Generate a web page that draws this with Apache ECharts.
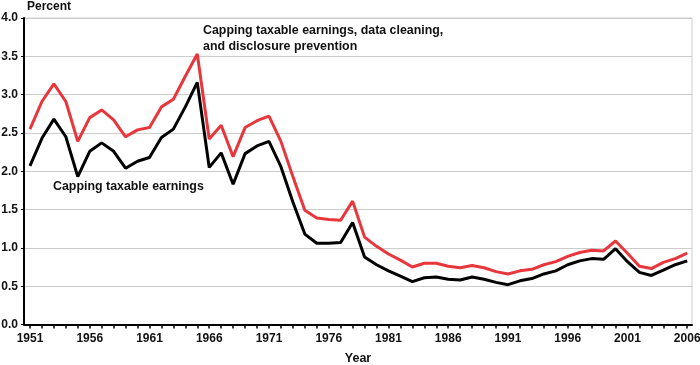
<!DOCTYPE html>
<html>
<head>
<meta charset="utf-8">
<script src="https://cdn.jsdelivr.net/npm/echarts@6/dist/echarts.min.js"></script>
<style>html,body{margin:0;padding:0;background:#fff}#c{width:700px;height:365px}</style>
</head>
<body>
<div id="c"></div>
<script>
const years = [];
for (let y = 1951; y <= 2006; y++) years.push(y);
const labelYears = [1951, 1956, 1961, 1966, 1971, 1976, 1981, 1986, 1991, 1996, 2001, 2006];
const fullSeries = [2.55, 2.91, 3.14, 2.91, 2.39, 2.70, 2.80, 2.67, 2.45, 2.54, 2.57, 2.84, 2.94, 3.24, 3.53, 2.42, 2.60, 2.19, 2.57, 2.66,
  2.72, 2.39, 1.93, 1.49, 1.39, 1.37, 1.36, 1.61, 1.14, 1.02, 0.92, 0.84, 0.75, 0.80, 0.80, 0.76, 0.74, 0.77, 0.74, 0.69,
  0.66, 0.70, 0.72, 0.78, 0.82, 0.89, 0.94, 0.97, 0.96, 1.09, 0.93, 0.76, 0.73, 0.81, 0.86, 0.93];
const cappingSeries = [2.07, 2.43, 2.68, 2.45, 1.93, 2.26, 2.37, 2.26, 2.04, 2.13, 2.18, 2.44, 2.55, 2.84, 3.16, 2.05, 2.24, 1.83, 2.23, 2.33,
  2.39, 2.06, 1.60, 1.18, 1.06, 1.06, 1.07, 1.33, 0.88, 0.78, 0.70, 0.63, 0.56, 0.61, 0.62, 0.59, 0.58, 0.62, 0.59, 0.55,
  0.52, 0.57, 0.60, 0.66, 0.70, 0.78, 0.83, 0.86, 0.85, 0.99, 0.82, 0.68, 0.64, 0.71, 0.78, 0.83];
const yTicks = [0, 0.5, 1, 1.5, 2, 2.5, 3, 3.5, 4];

const font = 'Liberation Sans, Arial, Helvetica, sans-serif';
const chart = echarts.init(document.getElementById('c'), null, {renderer: 'canvas'});
chart.setOption({
  animation: false,
  grid: {left: 24, right: 8, top: 18, bottom: 40.5, outerBoundsMode: 'none', containLabel: false,
    show: true, borderColor: '#cccccc', borderWidth: 1, backgroundColor: 'transparent'},
  xAxis: {
    type: 'value', min: 1950.5, max: 2006.4,
    name: 'Year', nameLocation: 'middle', nameGap: 28,
    nameTextStyle: {fontFamily: font, fontWeight: 'bold', fontSize: 12.5, color: '#111'},
    axisLine: {show: true, onZero: false, lineStyle: {color: '#000', width: 2}},
    axisTick: {show: true, length: 4, lineStyle: {color: '#000', width: 1.5}, customValues: years},
    axisLabel: {customValues: labelYears, margin: 8, fontFamily: font, fontWeight: 'bold', fontSize: 12, color: '#111', formatter: v => String(Math.round(v))},
    splitLine: {show: false}
  },
  yAxis: {
    type: 'value', min: 0, max: 4, interval: 0.5,
    axisLine: {show: true, lineStyle: {color: '#000', width: 2}},
    axisTick: {show: true, length: 3, lineStyle: {color: '#000', width: 1}},
    axisLabel: {margin: 6, fontFamily: font, fontWeight: 'bold', fontSize: 12, color: '#111', formatter: v => v.toFixed(1)},
    splitLine: {show: true, lineStyle: {color: '#cccccc', width: 1}}
  },
  series: [
    {type: 'line', data: years.map((y, i) => [y, fullSeries[i]]), symbol: 'none', lineStyle: {color: '#e8363d', width: 3}, z: 3},
    {type: 'line', data: years.map((y, i) => [y, cappingSeries[i]]), symbol: 'none', lineStyle: {color: '#000', width: 3}, z: 4}
  ],
  graphic: [
    {type: 'text', left: 27, top: 1, style: {text: 'Percent', fontFamily: font, fontWeight: 'bold', fontSize: 12, fill: '#111'}},
    {type: 'text', left: 203, top: 23, style: {text: 'Capping taxable earnings, data cleaning,\nand disclosure prevention', lineHeight: 16, fontFamily: font, fontWeight: 'bold', fontSize: 12.4, fill: '#111'}},
    {type: 'text', left: 53, top: 181, style: {text: 'Capping taxable earnings', fontFamily: font, fontWeight: 'bold', fontSize: 12.4, fill: '#111'}}
  ]
});
</script>
</body>
</html>
